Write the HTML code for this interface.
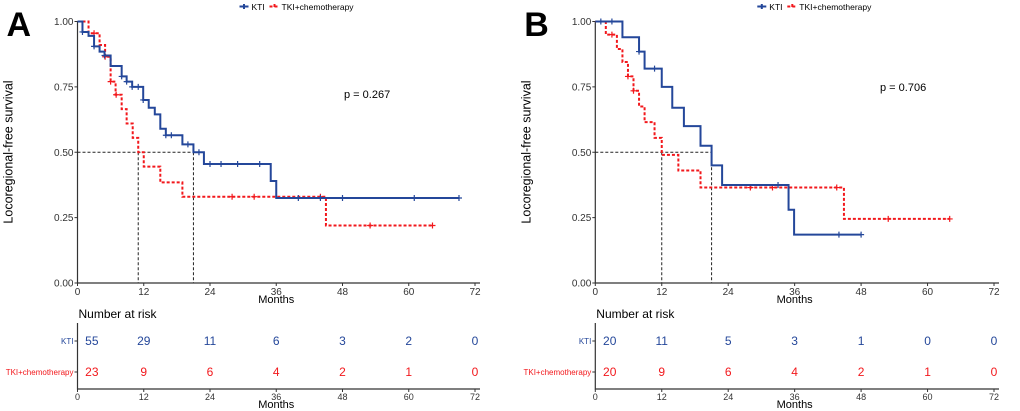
<!DOCTYPE html>
<html><head><meta charset="utf-8"><style>
body{margin:0;background:#fff}
svg{display:block;font-family:"Liberation Sans",sans-serif}
</style></head><body>
<svg id="c" width="1020" height="411" xmlns="http://www.w3.org/2000/svg"></svg>
<script>
// Panel A
const aKtiTimes=[0.9,2.0,3.0,4.0,4.9,6.0,8.0,8.9,9.9,11.9,12.9,14.0,15.0,16.0,19.0,21.0,22.9,35.0,36.0];
const aKtiSurv=[0.96,0.945,0.905,0.885,0.87,0.83,0.79,0.77,0.75,0.70,0.67,0.645,0.59,0.565,0.53,0.50,0.455,0.39,0.325];
const aKtiEnd=69.1;
const aKtiCens=[0.9,3.0,4.9,8.0,8.9,9.9,11,11.9,16,17,20,22,24,26,29,33,40,44,48,61,69.1];
const aTkiTimes=[2.0,4.0,5.0,6.0,6.9,8.0,8.9,10.0,11.0,12.0,15.0,19.0,45.0];
const aTkiSurv=[0.955,0.91,0.865,0.77,0.72,0.665,0.61,0.555,0.50,0.445,0.385,0.33,0.22];
const aTkiEnd=64.3;
const aTkiCens=[3.0,5.0,6.0,7.0,28,32,44,53,64.3];
const aMedians=[11,21];
const aP="p = 0.267";
const aRiskKti=[55,29,11,6,3,2,0];
const aRiskTki=[23,9,6,4,2,1,0];
// Panel B
const bKtiTimes=[4.9,7.9,8.9,12.0,13.9,16.0,19.0,21.0,22.9,34.9,35.9];
const bKtiSurv=[0.94,0.885,0.82,0.75,0.67,0.60,0.525,0.45,0.375,0.28,0.185];
const bKtiEnd=48;
const bKtiCens=[1,3,7.9,10.7,33,44,48];
const bTkiTimes=[1.9,3.9,4.9,5.9,6.9,7.9,8.9,10.7,12.0,15.0,19.0,44.9];
const bTkiSurv=[0.95,0.895,0.845,0.79,0.735,0.675,0.615,0.555,0.49,0.43,0.365,0.245];
const bTkiEnd=64;
const bTkiCens=[3,5.9,6.9,28,32,43.6,52.9,64];
const bMedians=[12,21];
const bP="p = 0.706";
const bRiskKti=[20,11,5,3,1,0,0];
const bRiskTki=[20,9,6,4,2,1,0];
const xTicks=[0,12,24,36,48,60,72];
const yTicks=[0,0.25,0.5,0.75,1];
const riskTimes=[2.6,12,24,36,48,60,72];

const NS="http://www.w3.org/2000/svg";
const svg=document.getElementById('c');
const BLUE="#24479a", RED="#f2181c";
function mk(tag,attrs,parent){const e=document.createElementNS(NS,tag);for(const k in attrs)e.setAttribute(k,attrs[k]);(parent||svg).appendChild(e);return e;}
function txt(s,attrs,parent){const e=mk('text',attrs,parent);e.textContent=s;return e;}

function panel(id,letter,x0,x72,pX,pY,kT,kS,kE,kC,tT,tS,tE,tC,med,p,rK,rT){
  const g=mk('g',{});
  
  
  const X=t=>x0+(x72-x0)*t/72;
  const Y=s=>283-261.5*s;
  const L=txt(letter,{x:x0-71,y:36,'font-size':34,'font-weight':'bold'},g);
  
  
  const ax=mk('path',{d:`M${x0},21 V283 H${x72+5}`,stroke:'#333',fill:'none','stroke-width':1.2},g);
  
  
  yTicks.forEach(v=>{
    mk('line',{x1:x0-3,x2:x0,y1:Y(v),y2:Y(v),stroke:'#333'},g);
    const t=txt(v.toFixed(2),{x:x0-4,y:Y(v)+3.5,'font-size':10,'text-anchor':'end',fill:'#333'},g);
    
    
  });
  xTicks.forEach(v=>{
    mk('line',{x1:X(v),x2:X(v),y1:283,y2:286,stroke:'#333'},g);
    const t=txt(v,{x:X(v),y:295,'font-size':10,'text-anchor':'middle',fill:'#333'},g);
    
    
  });
  const xt=txt('Months',{x:(x0+x72)/2,y:303,'font-size':11,'text-anchor':'middle'},g);
  
  
  const yt=txt('Locoregional-free survival',{x:0,y:0,'font-size':12.5,'text-anchor':'middle',transform:`translate(${x0-65},152) rotate(-90)`},g);
  
  
  const md=mk('path',{d:`M${x0},${Y(0.5)} H${X(med[1])} M${X(med[0])},${Y(0.5)} V283 M${X(med[1])},${Y(0.5)} V283`,stroke:'#222',fill:'none','stroke-dasharray':'3,2','stroke-width':1},g);
  
  
  function curve(T,S,E,C,col,dash,name){
    let d=`M${X(0)},${Y(1)}`;
    T.forEach((t,i)=>{d+=` H${X(t)} V${Y(S[i])}`;});
    d+=` H${X(E)}`;
    const pth=mk('path',{d,stroke:col,fill:'none','stroke-width':2,'stroke-dasharray':dash},g);
    
    
    C.forEach(c=>{
      let s=1;T.forEach((t,i)=>{if(t<=c)s=S[i];});
      const m=mk('path',{d:`M${X(c)-3},${Y(s)} h6 M${X(c)},${Y(s)-3} v6`,stroke:col,'stroke-width':1.2},g);
      
      
    });
  }
  curve(tT,tS,tE,tC,RED,'3,2','tki-chemo');
  curve(kT,kS,kE,kC,BLUE,'','kti');
  const pv=txt(p,{x:pX,y:pY,'font-size':11},g);
  
  
  const lx=x0+162;
  const lg=mk('g',{},g);
  
  
  mk('path',{d:`M${lx},6.5 h9 M${lx+4.5},4 v5`,stroke:BLUE,'stroke-width':2},lg);
  txt('KTI',{x:lx+12,y:10,'font-size':8.5},lg);
  mk('path',{d:`M${lx+30},6.5 h10 M${lx+35},4 v5`,stroke:RED,'stroke-width':2,'stroke-dasharray':'3,2'},lg);
  txt('TKI+chemotherapy',{x:lx+42,y:10,'font-size':8.5},lg);
  const rt=mk('g',{},g);
  
  
  txt('Number at risk',{x:x0+1,y:318,'font-size':12},rt);
  mk('path',{d:`M${x0},323 V389 H${x72+5}`,stroke:'#333',fill:'none','stroke-width':1.2},rt);
  txt('KTI',{x:x0-4,y:344,'font-size':8,'text-anchor':'end',fill:BLUE},rt);
  txt('TKI+chemotherapy',{x:x0-4,y:375,'font-size':8,'text-anchor':'end',fill:RED},rt);
  mk('path',{d:`M${x0-3},341 h3 M${x0-3},372 h3`,stroke:'#333'},rt);
  rK.forEach((v,i)=>txt(v,{x:X(riskTimes[i]),y:345,'font-size':12,'text-anchor':'middle',fill:BLUE},rt));
  rT.forEach((v,i)=>txt(v,{x:X(riskTimes[i]),y:376,'font-size':12,'text-anchor':'middle',fill:RED},rt));
  xTicks.forEach(v=>{
    mk('line',{x1:X(v),x2:X(v),y1:389,y2:392,stroke:'#333'},rt);
    txt(v,{x:X(v),y:400,'font-size':9,'text-anchor':'middle',fill:'#333'},rt);
  });
  txt('Months',{x:(x0+x72)/2,y:408,'font-size':11,'text-anchor':'middle'},rt);
}
panel('a','A',77.5,475,344,98,aKtiTimes,aKtiSurv,aKtiEnd,aKtiCens,aTkiTimes,aTkiSurv,aTkiEnd,aTkiCens,aMedians,aP,aRiskKti,aRiskTki);
panel('b','B',595.3,994,880,91,bKtiTimes,bKtiSurv,bKtiEnd,bKtiCens,bTkiTimes,bTkiSurv,bTkiEnd,bTkiCens,bMedians,bP,bRiskKti,bRiskTki);
</script>
</body></html>
